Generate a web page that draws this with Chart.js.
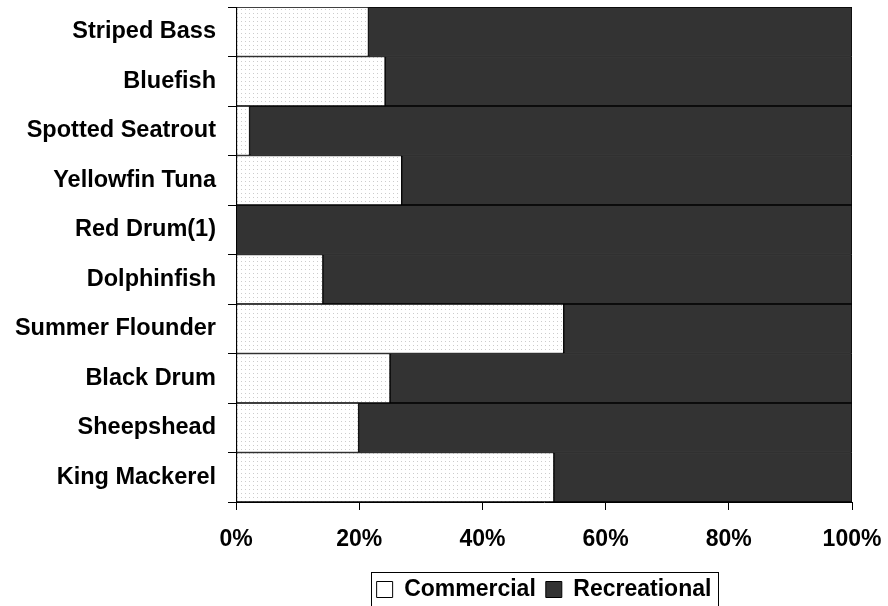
<!DOCTYPE html>
<html>
<head>
<meta charset="utf-8">
<script src="https://cdn.jsdelivr.net/npm/chart.js@4.4.1/dist/chart.umd.min.js"></script>
<style>
  html, body { margin: 0; padding: 0; background: #fff; }
  #wrap { width: 888px; height: 606px; position: relative; }
</style>
</head>
<body>
<div id="wrap"><canvas id="chart" width="888" height="606"></canvas></div>
<script>
// ── Data (share of catch, %) ───────────────────────────────────────────
const categories = [
  'Striped Bass', 'Bluefish', 'Spotted Seatrout', 'Yellowfin Tuna', 'Red Drum(1)',
  'Dolphinfish', 'Summer Flounder', 'Black Drum', 'Sheepshead', 'King Mackerel',
];
const commercial   = [21.5, 24.2, 2.2, 26.9, 0, 14.1, 53.2, 25.0, 19.9, 51.6];
const recreational = [78.5, 75.8, 97.8, 73.1, 100, 85.9, 46.8, 75.0, 80.1, 48.4];
const xTicks = [0, 20, 40, 60, 80, 100];

const FONT = { family: '"Liberation Sans", Arial, sans-serif', size: 23, weight: 'bold' };
const CAT_FONT = { family: '"Liberation Sans", Arial, sans-serif', size: 23.5, weight: 'bold' };

// light dotted fill for the commercial share
function dotPattern() {
  const c = document.createElement('canvas');
  c.width = 4; c.height = 4;
  const g = c.getContext('2d');
  g.fillStyle = '#ffffff';
  g.fillRect(0, 0, 4, 4);
  g.fillStyle = '#cccccc';
  g.fillRect(1, 1, 1, 1);
  return g.createPattern(c, 'repeat');
}

// frame around the legend items
const legendFrame = {
  id: 'legendFrame',
  afterDraw(chart) {
    const boxes = chart.legend && chart.legend.legendHitBoxes;
    if (!boxes || !boxes.length) return;
    const left = Math.min(...boxes.map(b => b.left)) - 6;
    const right = Math.max(...boxes.map(b => b.left + b.width)) + 6;
    const mid = boxes[0].top + boxes[0].height / 2;
    const ctx = chart.ctx;
    ctx.save();
    ctx.strokeStyle = '#000';
    ctx.lineWidth = 1;
    ctx.strokeRect(Math.round(left) + 0.5, Math.round(mid - 17.5) + 0.5, Math.round(right - left), 35);
    ctx.restore();
  },
};

new Chart(document.getElementById('chart').getContext('2d'), {
  type: 'bar',
  data: {
    labels: categories,
    datasets: [
      { label: 'Commercial', data: commercial, backgroundColor: dotPattern(), borderColor: '#000', borderWidth: 1, borderSkipped: false },
      { label: 'Recreational', data: recreational, backgroundColor: '#333333', borderColor: '#000', borderWidth: 1, borderSkipped: false },
    ],
  },
  options: {
    indexAxis: 'y',
    responsive: false,
    devicePixelRatio: 1,
    animation: false,
    categoryPercentage: 1,
    barPercentage: 1,
    layout: { padding: { top: 7, left: 0, right: 36, bottom: -5 } },
    plugins: {
      tooltip: { enabled: false },
      legend: {
        position: 'bottom',
        fullSize: false,
        labels: {
          color: '#000',
          font: FONT,
          boxWidth: 16,
          boxHeight: 16,
          padding: 10,
          generateLabels(chart) {
            const items = Chart.defaults.plugins.legend.labels.generateLabels(chart);
            items[0].fillStyle = '#ffffff';
            return items;
          },
        },
      },
    },
    scales: {
      x: {
        stacked: true,
        min: 0,
        max: 100,
        afterBuildTicks: s => { s.ticks = xTicks.map(v => ({ value: v })); },
        afterFit: s => { s.height = 66; s.paddingLeft = 0; s.paddingRight = 0; },
        ticks: { color: '#000', font: FONT, padding: 16, callback: v => v + '%' },
        grid: { drawOnChartArea: false, tickLength: 8, color: '#000' },
        border: { color: '#000', width: 1 },
      },
      y: {
        stacked: true,
        afterFit: s => { s.width = 236; s.paddingTop = 0; s.paddingBottom = 0; },
        ticks: { color: '#000', font: CAT_FONT, padding: 12 },
        grid: { drawOnChartArea: false, offset: true, tickLength: 8, color: '#000' },
        border: { color: '#000', width: 1 },
      },
    },
  },
  plugins: [legendFrame],
});
</script>
</body>
</html>
